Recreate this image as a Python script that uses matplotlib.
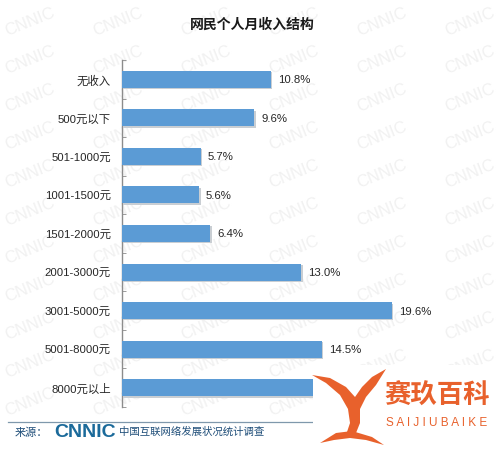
import matplotlib
matplotlib.use("Agg")
import matplotlib.pyplot as plt
import matplotlib.patheffects as pe
from matplotlib.patches import Rectangle, PathPatch
from matplotlib.path import Path
import numpy as np

plt.rcParams["font.family"] = ["Liberation Sans", "Noto Sans CJK SC", "DejaVu Sans"]

# ── data ──
categories = ["无收入", "500元以下", "501-1000元", "1001-1500元", "1501-2000元",
              "2001-3000元", "3001-5000元", "5001-8000元", "8000元以上"]
shares = [10.8, 9.6, 5.7, 5.6, 6.4, 13.0, 19.6, 14.5, 14.8]
value_labels = [f"{v:.1f}%" for v in shares]

C_BAR = "#5B9BD5"
C_AXIS = "#8C8C8C"
C_TEXT = "#262626"
C_ORANGE = "#E8612C"

W, H = 503, 452
fig = plt.figure(figsize=(W / 100, H / 100), dpi=100)
fig.patch.set_facecolor("white")

# ── faint CNNIC watermark tiles ──
for yy in np.arange(22, H - 15, 38):
    for xx in np.arange(30, W - 25, 88):
        fig.text(xx / W, 1 - yy / H, "CNNIC", fontsize=12,
                 color="#F1F1F1", rotation=22,
                 ha="center", va="center", zorder=0)

# ── main axes ──
ax = fig.add_axes([122 / W, 44 / H, (485 - 122) / W, (408 - 61) / H])
ax.set_zorder(2)
ax.patch.set_alpha(0)
y = np.arange(len(categories))
bars = ax.barh(y, shares, height=0.44, color=C_BAR, zorder=3)
for b in bars:
    b.set_path_effects([pe.SimplePatchShadow(offset=(1, -1), shadow_rgbFace="#C9CED3", alpha=1.0),
                        pe.Normal()])
for yi, v, lab in zip(y, shares, value_labels):
    ax.text(v + 0.5, yi, lab, va="center", ha="left", fontsize=8.2, color=C_TEXT, zorder=4)

ax.set_xlim(0, (485 - 122) / 13.78)
ax.set_ylim(len(categories) - 0.5, -0.5)
ax.set_yticks(y)
ax.set_yticklabels(categories, fontsize=8.2, color=C_TEXT)
ax.set_yticks(np.arange(-0.5, len(categories)), minor=True)
ax.tick_params(axis="y", which="major", length=0, pad=8)
ax.tick_params(axis="y", which="minor", length=3, direction="in", color=C_AXIS)
ax.set_xticks([])
for s in ["top", "right", "bottom"]:
    ax.spines[s].set_visible(False)
ax.spines["left"].set_color(C_AXIS)
ax.spines["left"].set_linewidth(1.0)

# ── title ──
fig.text(252 / W, 1 - 25 / H, "网民个人月收入结构", ha="center", va="center",
         fontsize=10, fontweight="bold", color="#1A1A1A", zorder=3)

# ── source footer ──
fig.add_artist(plt.Line2D([8 / W, 330 / W], [1 - 423 / H, 1 - 423 / H],
                          color="#7F98AC", linewidth=0.9, zorder=3))
fig.text(15 / W, 1 - 433 / H, "来源：", ha="left", va="center", fontsize=8,
         color="#1F4E79", zorder=3)
fig.text(54 / W, 1 - 433 / H, "CNNIC", ha="left", va="center", fontsize=14,
         fontweight="bold", color="#1B6A9A", zorder=3)
fig.text(119 / W, 1 - 432 / H, "中国互联网络发展状况统计调查", ha="left", va="center",
         fontsize=7.5, color="#1F4E79", zorder=3)

# ── watermark logo (bottom right) ──
fig.add_artist(Rectangle((313 / W, 0), 1 - 313 / W, (452 - 366) / H,
                         transform=fig.transFigure, facecolor="white",
                         edgecolor="none", zorder=5))


def fig_path(pts):
    return Path([(px / W, 1 - py / H) for px, py in pts])


# whale tail: two flukes and a curved stem
tail_pts = [(312, 376), (326, 384), (340, 396), (348, 410), (350, 424),
            (346, 436), (356, 434), (360, 424), (360, 410), (366, 398),
            (376, 386), (386, 370), (372, 378), (362, 388), (355, 398),
            (346, 388), (330, 379), (312, 376)]
fig.add_artist(PathPatch(fig_path(tail_pts), transform=fig.transFigure,
                         facecolor=C_ORANGE, edgecolor="none", zorder=6))
wave_pts = [(320, 444), (336, 434), (352, 432), (372, 438), (384, 446),
            (366, 441), (350, 439), (334, 441), (320, 444)]
fig.add_artist(PathPatch(fig_path(wave_pts), transform=fig.transFigure,
                         facecolor=C_ORANGE, edgecolor="none", zorder=6))
fig.text(437 / W, 1 - 396 / H, "赛玖百科", ha="center", va="center", fontsize=19,
         fontweight="bold", color=C_ORANGE, zorder=7, family=["Noto Sans CJK SC"])
fig.text(437 / W, 1 - 423 / H, "S A I J I U B A I K E", ha="center", va="center",
         fontsize=8.5, color=C_ORANGE, zorder=7)

fig.savefig("out.png", dpi=100, facecolor="white")
